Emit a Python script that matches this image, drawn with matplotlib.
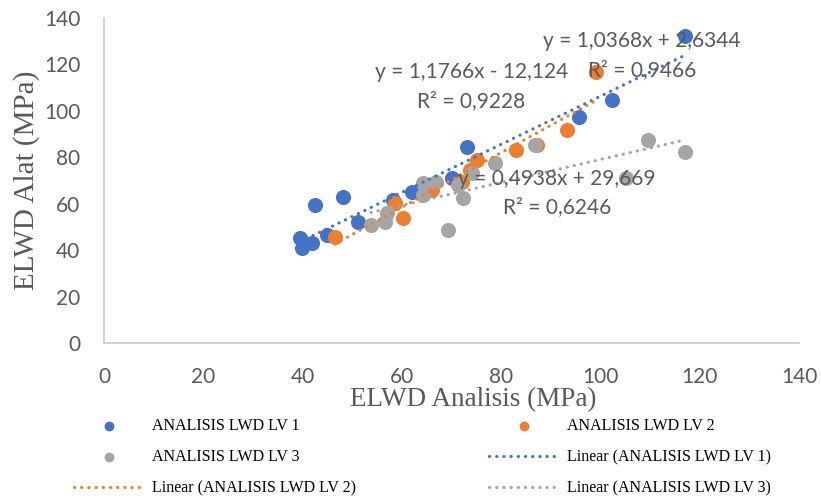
import matplotlib.pyplot as plt
import numpy as np

# ELWD Analisis (x) vs ELWD Alat (y), MPa
lv1_x = [39.5, 39.9, 41.9, 42.5, 44.9, 48.1, 51.2, 58.2, 62.0, 70.1, 73.1, 95.7, 102.3, 117.0]
lv1_y = [45.3, 41.0, 43.1, 59.5, 46.6, 63.0, 52.2, 61.7, 65.1, 71.2, 84.5, 97.5, 104.8, 132.4]

lv2_x = [46.5, 58.6, 60.2, 66.1, 72.1, 73.7, 75.1, 83.0, 87.2, 93.3, 99.1]
lv2_y = [45.7, 60.4, 53.9, 66.0, 69.4, 74.6, 78.9, 83.2, 85.4, 91.8, 116.9]

lv3_x = [53.8, 56.6, 57.0, 64.3, 64.3, 66.9, 69.3, 71.3, 72.3, 74.1, 78.8, 86.8, 105.2, 109.6, 117.0]
lv3_y = [50.9, 52.2, 56.1, 69.0, 63.8, 69.4, 48.7, 68.1, 62.5, 73.3, 77.6, 85.4, 71.2, 87.5, 82.4]

names = ["ANALISIS LWD LV 1", "ANALISIS LWD LV 2", "ANALISIS LWD LV 3"]
slopes = [1.0368, 1.1766, 0.4938]
intercepts = [2.6344, -12.124, 29.669]
eq_text = ["y = 1,0368x + 2,6344", "y = 1,1766x - 12,124", "y = 0,4938x + 29,669"]
r2_text = ["R\u00b2 = 0,9466", "R\u00b2 = 0,9228", "R\u00b2 = 0,6246"]
colors = ["#4472C4", "#ED7D31", "#A5A5A5"]
TXT = "#595959"

fig = plt.figure(figsize=(8.21, 5.0), dpi=100)
ax = fig.add_axes([104/821, 1-343/500, 695/821, 325/500])

xs = [lv1_x, lv2_x, lv3_x]
ys = [lv1_y, lv2_y, lv3_y]

pts = []
for x, y, c, n in zip(xs, ys, colors, names):
    pts.append(ax.scatter(x, y, s=118, color=c, label=n, zorder=2, linewidths=0))

# Trendlines (drawn over the markers, like Excel)
trends = []
for x, a, b, c, n in zip(xs, slopes, intercepts, colors, names):
    tx = np.linspace(min(x), max(x), 50)
    ln, = ax.plot(tx, a*tx + b, color=c, lw=2.3, linestyle=(0, (0.05, 2.2)),
                  dash_capstyle='round', zorder=3, label="Linear (" + n + ")")
    trends.append(ln)

# Equation labels (positions in data units)
eq_pos = [(108.3, 123.8), (74.0, 110.4), (91.2, 64.6)]
for (px, py), e, r in zip(eq_pos, eq_text, r2_text):
    ax.text(px, py, e + "\n" + r, ha='center', va='center', color=TXT,
            fontsize=15, family='Lato', linespacing=1.55, zorder=4)

ax.set_xlim(0, 140)
ax.set_ylim(0, 140)
ax.set_xticks(np.arange(0, 141, 20))
ax.set_yticks(np.arange(0, 141, 20))
ax.tick_params(length=0, labelsize=15, labelcolor=TXT)
ax.tick_params(axis='x', pad=17)
ax.tick_params(axis='y', pad=17)
for lab in ax.get_xticklabels() + ax.get_yticklabels():
    lab.set_family('Lato')

for s in ['top', 'right']:
    ax.spines[s].set_visible(False)
for s in ['left', 'bottom']:
    ax.spines[s].set_color('#C8C8C8')
    ax.spines[s].set_linewidth(1.2)

ax.set_xlabel("ELWD Analisis (MPa)", family='Liberation Serif', fontsize=19.5,
              color=TXT, va='center')
ax.xaxis.set_label_coords(0.532, -0.175)
ax.set_ylabel("ELWD Alat (MPa)", family='Liberation Serif', fontsize=21,
              color=TXT, va='center')
ax.yaxis.set_label_coords(-0.112, 0.5)

# Legend: column-major order for 2 columns
handles = [pts[0], pts[2], trends[1], pts[1], trends[0], trends[2]]
labels = [h.get_label() for h in handles]
fig.legend(handles, labels, ncol=2, loc='upper left', frameon=False,
           bbox_to_anchor=(66/821, 1-410/500), borderpad=0,
           prop={'family': 'Liberation Serif', 'size': 11.5},
           handlelength=4.4, handletextpad=0.5, columnspacing=8.3,
           labelspacing=0.95, markerscale=0.65, scatterpoints=1)

fig.savefig("out.png", dpi=100)
